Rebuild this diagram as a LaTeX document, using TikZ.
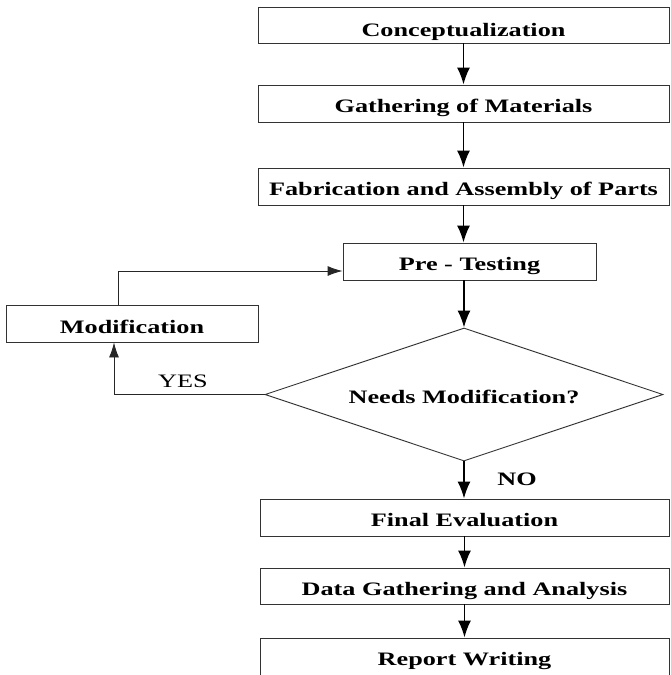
\documentclass[tikz,border=0pt]{standalone}
\usepackage{fontspec}
\setmainfont{Liberation Serif}[FakeStretch=1.38]
\usetikzlibrary{shapes.geometric,arrows.meta}
\begin{document}
\begin{tikzpicture}[x=1pt,y={(0pt,-1pt)},
  txt/.style={font=\fontsize{19}{22}\selectfont\bfseries},
  stepbox/.style={draw=black!80,line width=0.9pt,inner sep=0pt,txt,text height=19pt,text depth=2pt},
  decision/.style={draw=black!80,line width=0.9pt,shape=diamond,aspect=3,
    minimum width=398pt,minimum height=133pt,inner sep=0pt,txt,text height=19pt,text depth=2pt},
  flow/.style={line width=1.8pt,-{Latex[length=17pt,width=13pt]}},
  loopline/.style={line width=0.9pt,draw=black!85,-{Latex[length=15pt,width=10pt]}},
  lbl/.style={font=\fontsize{19}{22}\selectfont}]
\useasboundingbox (0,0) rectangle (670,675);
\clip (0,0) rectangle (670,675);
\node[stepbox,minimum width=411pt,minimum height=36pt,text height=24pt] (c) at (463.5,25) {Conceptualization};
\node[stepbox,minimum width=411pt,minimum height=37pt] (g) at (463.5,103.5) {Gathering of Materials};
\node[stepbox,minimum width=411pt,minimum height=37pt] (f) at (463.5,186.5) {Fabrication and Assembly of Parts};
\node[stepbox,minimum width=253pt,minimum height=37pt] (p) at (469.5,261.5) {Pre - Testing};
\node[stepbox,minimum width=252pt,minimum height=37pt,text height=22pt] (m) at (132,323.5) {Modification};
\node[decision] (d) at (464,394.5) {Needs Modification?};
\node[stepbox,minimum width=409pt,minimum height=37pt,text height=20pt] (fe) at (464.5,517.5) {Final Evaluation};
\node[stepbox,minimum width=409pt,minimum height=36pt,text height=20pt] (da) at (464.5,586) {Data Gathering and Analysis};
\node[stepbox,minimum width=409pt,minimum height=38pt] (r) at (464.5,657) {Report Writing};
\node[lbl] (yes) at (183,381) {YES};
\node[lbl,font=\fontsize{19}{22}\selectfont\bfseries] (no) at (517,479) {NO};
\coordinate (yc) at (114,394.5);
\coordinate (mt) at (118,271);
\draw[flow] (c) -- (g);
\draw[flow] (g) -- (f);
\draw[flow] (f.south) -- (f.south |- p.north);
\draw[flow] (p.south -| d.north) -- (d.north);
\draw[flow] (d.south) -- (d.south |- fe.north);
\draw[flow] (fe.south) -- (fe.south |- da.north);
\draw[flow] (da.south) -- (da.south |- r.north);
\draw[loopline] (d.west) -- (yc) -- (yc |- m.south);
\draw[loopline] (m.north -| mt) -- (mt) -- (mt -| p.west);
\end{tikzpicture}
\end{document}
